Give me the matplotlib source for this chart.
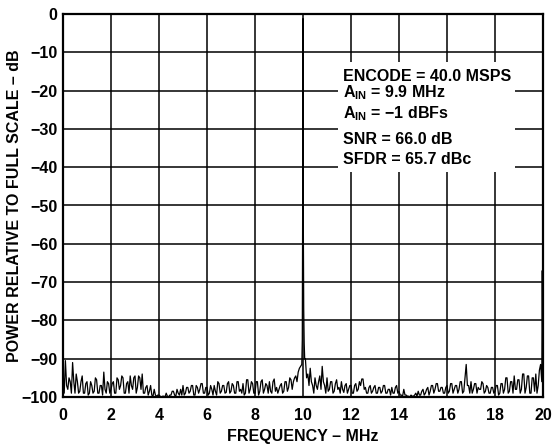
import numpy as np
import matplotlib
matplotlib.use("Agg")
import matplotlib.pyplot as plt
from matplotlib.patches import Rectangle

plt.rcParams["font.family"] = ["Liberation Sans", "DejaVu Sans"]
plt.rcParams["font.weight"] = "bold"
plt.rcParams["mathtext.fontset"] = "custom"
plt.rcParams["mathtext.rm"] = "Liberation Sans:bold"
plt.rcParams["mathtext.bf"] = "Liberation Sans:bold"

# noise floor, every 0.05 MHz from 0.00 to 9.95
floor_low = [
    -93, -99, -90.5, -97, -98, -95, -96, -99, -91, -96, -99, -94, -96, -99, -98.5, -96, -94.5, -99, -99, -96.5,
    -96, -99.5, -99, -96, -97, -99, -98.5, -95, -95.5, -99, -99, -97, -97, -99.5, -93.5, -98, -99, -96, -96.5, -99,
    -98, -96.5, -96, -99, -99, -95, -95.5, -98, -97, -94.5, -95, -99, -99, -96.5, -96, -99, -94.5, -97, -98, -95,
    -94.5, -99, -97.5, -94.5, -95, -98, -94, -99, -99, -97.5, -97, -99.5, -98.5, -97, -99.5, -99.8, -98, -99.5, -99.8, -99.5,
    -99.5, -99.8, -100, -99.8, -99.8, -100, -99, -99.8, -100, -99.5, -99.5, -98.5, -98.5, -99.5, -99.8, -98, -99, -99.5, -98, -99.5,
    -97, -99.5, -99, -97.5, -97.5, -99, -98.5, -97, -97, -99.5, -99.5, -97, -97.5, -99, -98, -96.5, -96.5, -99, -99, -97.5,
    -97.5, -99.5, -99, -97, -98, -99.5, -97, -98.5, -99.5, -96, -96.5, -99, -98.5, -97, -97, -99, -98.8, -96.5, -96, -99,
    -98.5, -96.5, -97, -99, -99, -96, -96, -98.5, -98, -99, -96.5, -99.5, -99, -95.5, -95.5, -99, -98, -96, -96.5, -99,
    -99, -96, -96, -99.5, -98.5, -96, -95.5, -99, -98, -96.5, -97, -99, -96, -98.5, -99, -96, -95.3, -98.5, -97.5, -99,
    -98, -97, -96.5, -99, -98.5, -96, -96, -98.5, -97.5, -95, -95.5, -98, -96, -95, -94.5, -96, -93.5, -92.5, -92, -91.5,
]
# fundamental at ~10 MHz and its skirt
peak_freq = [9.97, 9.99, 10.0, 10.01, 10.03, 10.05, 10.07]
peak_db = [-85, -40, -1.2, -50, -77, -86, -90]
# noise floor from 10.10 to 19.95 MHz, every 0.05 MHz
floor_high = [
    -90, -95, -94, -97, -92.5, -96, -97, -99, -95, -97, -98, -96, -94.5, -98, -92, -96, -97, -99,
    -95, -98.5, -98, -96, -96, -99, -98.5, -96.5, -95.5, -98, -97.5, -99, -96, -98, -98.8, -97, -96.5, -99, -98, -97,
    -97, -99, -99, -97, -96.5, -98.5, -98, -96, -97, -95.3, -95.3, -98, -97.5, -99, -99, -97.5, -97, -99, -98.5, -97.5,
    -97, -99, -99, -97.5, -97.5, -99, -98.5, -97, -97, -99, -99, -98, -98, -99.5, -97.5, -99, -99, -97.5, -97, -99,
    -98.5, -99.5, -99.5, -99.8, -98, -99.5, -99.5, -99.8, -99.8, -100, -99.5, -99.8, -99.8, -99.5, -99, -99.8, -98.5, -99.5, -99.5, -98.5,
    -98, -99.5, -99, -98, -97.5, -99.5, -98.5, -97, -97, -99, -98, -96.5, -96.5, -98.5, -98.5, -97.5, -97.5, -99, -99, -97.5,
    -97, -99, -98.5, -96.5, -96.5, -99, -98, -97, -97, -99, -98, -96, -96, -99, -98.5, -95, -91.5, -97, -97, -99,
    -96, -99, -98, -96.5, -96.5, -99, -97.5, -98, -98, -96, -96.5, -99, -98.5, -97, -97.5, -99, -99, -97.5, -97.5, -99,
    -98.5, -97, -97, -99.5, -99, -96.5, -96.5, -99, -98, -95, -95, -99, -98.5, -96, -96, -99, -94.5, -98, -98, -95.5,
    -95.5, -99, -98, -94, -94, -99, -97.5, -94.5, -94.5, -99, -99, -95, -95, -98.5, -94, -99, -97, -93, -91.5, -96,
]
# spike at the right edge
edge_freq = [19.97, 20.0]
edge_db = [-67, -100]

info_lines = [
    "ENCODE = 40.0 MSPS",
    r"A$_{\mathregular{IN}}$ = 9.9 MHz",
    "A$_{\\mathregular{IN}}$ = \u22121 dBFs",
    "SNR = 66.0 dB",
    "SFDR = 65.7 dBc",
]

freq_low = np.round(np.arange(200) * 0.05, 2)
freq_high = np.round(10.1 + np.arange(198) * 0.05, 2)
freq = np.concatenate([freq_low, peak_freq, freq_high, edge_freq])
power = np.concatenate([floor_low, peak_db, floor_high, edge_db])

fig = plt.figure(figsize=(5.54, 4.48), dpi=100)
ax = fig.add_axes([63 / 554, 1 - 397 / 448, 480 / 554, 383 / 448])

ax.plot(freq, power, color="black", lw=0.9, zorder=3)

ax.set_xlim(0, 20)
ax.set_ylim(-100, 0)
ax.set_xticks(np.arange(0, 21, 2))
ax.set_yticks(np.arange(-100, 1, 10))
ax.set_yticklabels(["\u2212%d" % -v if v else "0" for v in range(-100, 1, 10)])
ax.grid(True, color="black", lw=1.1)
ax.tick_params(length=0, labelsize=11.5)
ax.tick_params(axis="x", pad=8)
ax.tick_params(axis="y", pad=4)
for s in ax.spines.values():
    s.set_linewidth(1.6)
    s.set_zorder(5)

# white patch behind the info text
ax.add_patch(Rectangle((11.46, -41.3), 7.37, 28.8, facecolor="white",
                       edgecolor="none", zorder=2.5))
ys = [-17.5, -21.8, -27.2, -33.9, -39.2]
for line, y in zip(info_lines, ys):
    ax.text(11.67, y, line, fontsize=11.5, fontweight="bold", va="baseline",
            ha="left", zorder=4)

ax.set_xlabel("FREQUENCY \u2013 MHz", fontsize=11.5, fontweight="bold", labelpad=4)
ax.set_ylabel("POWER RELATIVE TO FULL SCALE \u2013 dB", fontsize=11.5,
              fontweight="bold", family=["Liberation Sans Narrow", "Liberation Sans"])
ax.yaxis.set_label_coords(-0.085, 0.5)

fig.savefig("out.png", dpi=100)
